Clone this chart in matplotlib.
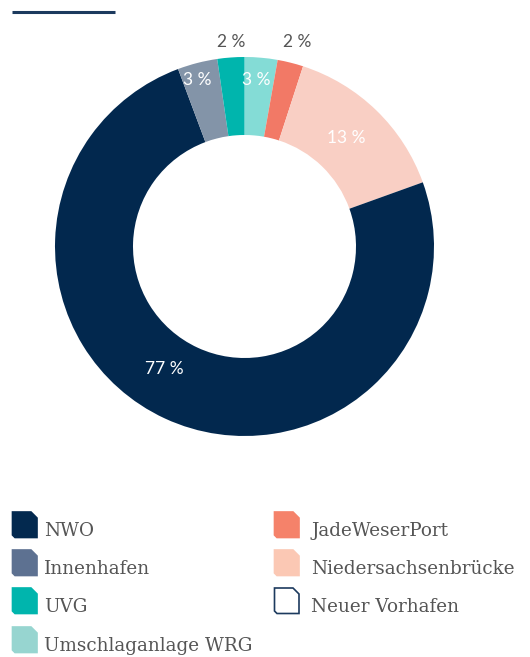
import matplotlib
matplotlib.use("Agg")
import matplotlib.pyplot as plt
from matplotlib.patches import Polygon

# categories in legend order (column 1 then column 2)
categories = ["NWO", "Innenhafen", "UVG", "Umschlaganlage WRG",
              "JadeWeserPort", "Niedersachsenbrücke", "Neuer Vorhafen"]
# shares as drawn in the ring (percent)
shares = [74.8, 3.4, 2.3, 2.8, 2.2, 14.5, 0.0]
# labels printed on the ring
share_labels = ["77 %", "3 %", "2 %", "3 %", "2 %", "13 %", ""]

pie_colors = ["#02284e", "#8394a8", "#00b5ad", "#84dcd6", "#f27966", "#f9cfc4", "#ffffff"]
legend_colors = ["#03294f", "#5d7191", "#00b5ad", "#97d5d0", "#f5826a", "#fbc8b4", "#ffffff"]

# ring goes clockwise from 12 o'clock in this order
pie_order = [3, 4, 5, 6, 0, 1, 2]

W, H = 530, 657
fig = plt.figure(figsize=(W / 100, H / 100), dpi=100)
ax = fig.add_axes([0, 0, 1, 1])

def Y(py):
    return H - py

# short rule at top-left
ax.plot([12, 115], [Y(12), Y(12)], color="#1c3a5e", lw=2.2, solid_capstyle="butt")

cx, cy, R, ring = 244.5, Y(246.5), 189.5, 78
ax.pie([shares[i] for i in pie_order], colors=[pie_colors[i] for i in pie_order],
       startangle=90, counterclock=False, center=(cx, cy), radius=R,
       wedgeprops=dict(width=ring, linewidth=0), frame=True)
ax.set_xlim(0, W)
ax.set_ylim(0, H)
ax.set_aspect("equal")
ax.axis("off")

# label placement (pixel positions, colour)
label_pos = {0: (164, 369, "white"), 1: (197, 80, "white"), 2: (231, 42, "#555555"),
             3: (256, 80, "white"), 4: (297, 42, "#555555"), 5: (346, 138, "white")}
for i, (px, py, c) in label_pos.items():
    ax.text(px, Y(py), share_labels[i], color=c, fontsize=12.5, family="Lato",
            fontweight="normal", ha="center", va="center", zorder=5)

# legend with chamfered icons
def icon(x0, y0, fc, ec):
    x1, y1 = x0 + 24.5, y0 + 25.5
    pts = [(x0, y0), (x1 - 6, y0), (x1, y0 + 6), (x1, y1), (x0 + 2.5, y1), (x0, y1 - 2.5)]
    ax.add_patch(Polygon([(x, Y(y)) for x, y in pts], closed=True, fc=fc, ec=ec, lw=1.2))

tops = [512, 550, 588, 627]
for k, name in enumerate(categories):
    col, row = divmod(k, 4)
    ix = 12.5 if col == 0 else 274.5
    tx = 44 if col == 0 else 311
    top = tops[row]
    ec = "#1c3a5e" if name == "Neuer Vorhafen" else legend_colors[k]
    icon(ix, top, legend_colors[k], ec)
    ax.text(tx, Y(top + 24), name, color="#555555", fontsize=13.2, family="DejaVu Serif",
            ha="left", va="baseline")

fig.savefig("out.png", dpi=100)
